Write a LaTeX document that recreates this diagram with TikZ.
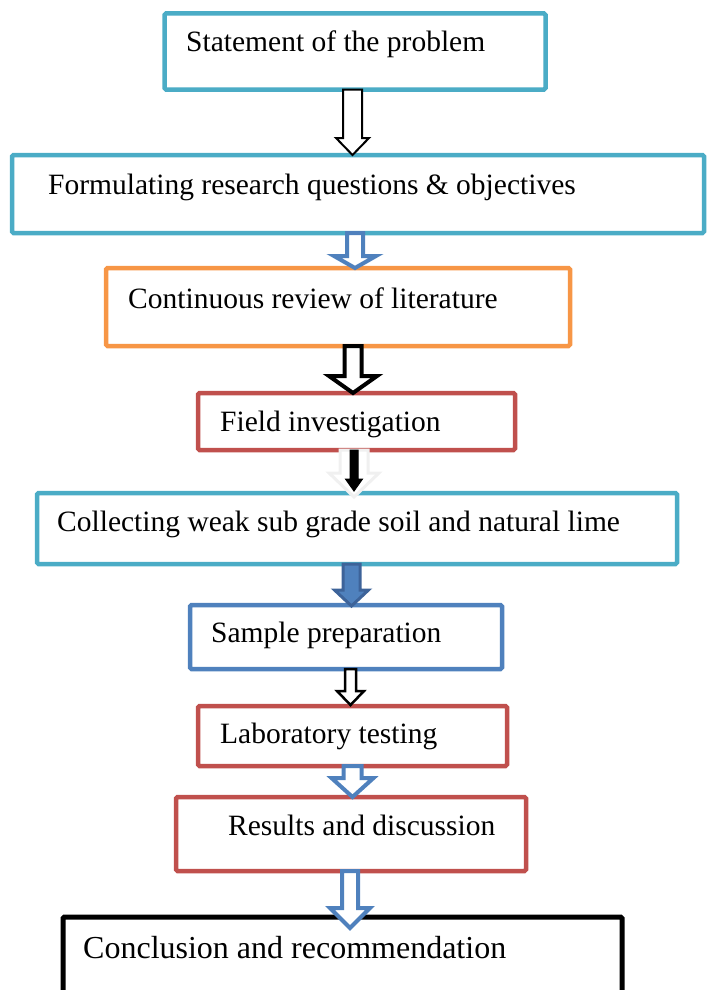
\documentclass[tikz,border=0pt]{standalone}
\usepackage{fontspec}
\setmainfont{Liberation Serif}
\usetikzlibrary{calc}
\definecolor{cyanline}{HTML}{4BACC6}
\definecolor{orangeline}{HTML}{F79646}
\definecolor{redline}{HTML}{C0504D}
\definecolor{blueline}{HTML}{4F81BD}
\definecolor{darkblue}{HTML}{3D6399}
% #1 style, #2 upper node, #3 lower node, #4 x coordinate, #5 shaft half width,
% #6 head half width, #7 head length, #8 tip offset below lower node's north
\newcommand\blockarrow[8]{%
  \draw[#1] ($(#2.south -| #4)+(-#5,0)$) -- ($(#2.south -| #4)+(#5,0)$)
    -- ($(#3.north -| #4)+(#5,#8-#7)$) -- ($(#3.north -| #4)+(#6,#8-#7)$)
    -- ($(#3.north -| #4)+(0,#8)$) -- ($(#3.north -| #4)+(-#6,#8-#7)$)
    -- ($(#3.north -| #4)+(-#5,#8-#7)$) -- cycle;}
\begin{document}
\begin{tikzpicture}[x=1pt,y=-1pt,
  stepbox/.style={draw=#1, line width=4.5pt, fill=white, rounded corners=1.5pt,
    anchor=north west, inner sep=0pt, outer sep=0pt},
  lbl/.style={anchor=base west, inner sep=0pt, font=\fontsize{29.5}{35}\selectfont},
  hollow/.style={draw=#1, fill=white, line join=miter},
]
\useasboundingbox (0,0) rectangle (707,990);
\clip (0,0) rectangle (707,990);
% boxes
\node[stepbox=cyanline, minimum width=381pt, minimum height=76pt] (b1) at (164.5,13.5) {};
\node[stepbox=cyanline, minimum width=692pt, minimum height=78pt] (b2) at (12,155) {};
\node[stepbox=orangeline, minimum width=464pt, minimum height=78pt] (b3) at (106,268) {};
\node[stepbox=redline, minimum width=317pt, minimum height=57pt] (b4) at (198,393) {};
\node[stepbox=cyanline, minimum width=640pt, minimum height=71pt] (b5) at (37,493) {};
\node[stepbox=blueline, minimum width=312pt, minimum height=64pt] (b6) at (190,605) {};
\node[stepbox=redline, minimum width=309pt, minimum height=60pt] (b7) at (198,706) {};
\node[stepbox=redline, minimum width=350pt, minimum height=74pt] (b8) at (176,797) {};
\node[stepbox=black, line width=5pt, minimum width=559pt, minimum height=100pt] (b9) at (63,917) {};
% texts
\node[lbl] (t1) at (186,52) {Statement of the problem};
\node[lbl] (t2) at (48,194) {Formulating research questions \& objectives};
\node[lbl] (t3) at (128,308) {Continuous review of literature};
\node[lbl] (t4) at (220,431) {Field investigation};
\node[lbl] (t5) at (57,531) {Collecting weak sub grade soil and natural lime};
\node[lbl] (t6) at (211,642) {Sample preparation};
\node[lbl] (t7) at (220,743) {Laboratory testing};
\node[lbl] (t8) at (228,835) {Results and discussion};
\node[lbl, font=\fontsize{32}{38}\selectfont] (t9) at (83,958) {Conclusion and recommendation};
% arrow axes
\coordinate (ax1) at (352.5,0);
\coordinate (ax2) at (355,0);
\coordinate (ax3) at (353,0);
\coordinate (ax4) at (354,0);
\coordinate (ax5) at (351.5,0);
\coordinate (ax6) at (350.5,0);
\coordinate (ax7) at (352.5,0);
\coordinate (ax8) at (350,0);
% arrows
\blockarrow{hollow=black, line width=2pt}{b1}{b2}{ax1}{9.5}{16.5}{17}{0}
\blockarrow{hollow=blueline, line width=4pt}{b2}{b3}{ax2}{8}{21}{12}{0}
\blockarrow{hollow=black, line width=4pt}{b3}{b4}{ax3}{8.5}{24}{17}{0}
\blockarrow{hollow=black!6, line width=3pt}{b4}{b5}{ax4}{14}{25}{24}{4}
\blockarrow{fill=black, draw=black, line width=1pt, line join=miter}{b4}{b5}{ax4}{4}{8.5}{12}{-2}
\blockarrow{fill=blueline, draw=darkblue, line width=3pt, line join=miter}{b5}{b6}{ax5}{8.5}{17}{16}{1}
\blockarrow{hollow=black, line width=2.5pt}{b6}{b7}{ax6}{5.5}{13.5}{14}{-1}
\blockarrow{hollow=blueline, line width=4pt}{b7}{b8}{ax7}{9}{21}{19}{0}
\blockarrow{hollow=blueline, line width=4pt}{b8}{b9}{ax8}{8}{20}{20}{11}
\end{tikzpicture}
\end{document}
